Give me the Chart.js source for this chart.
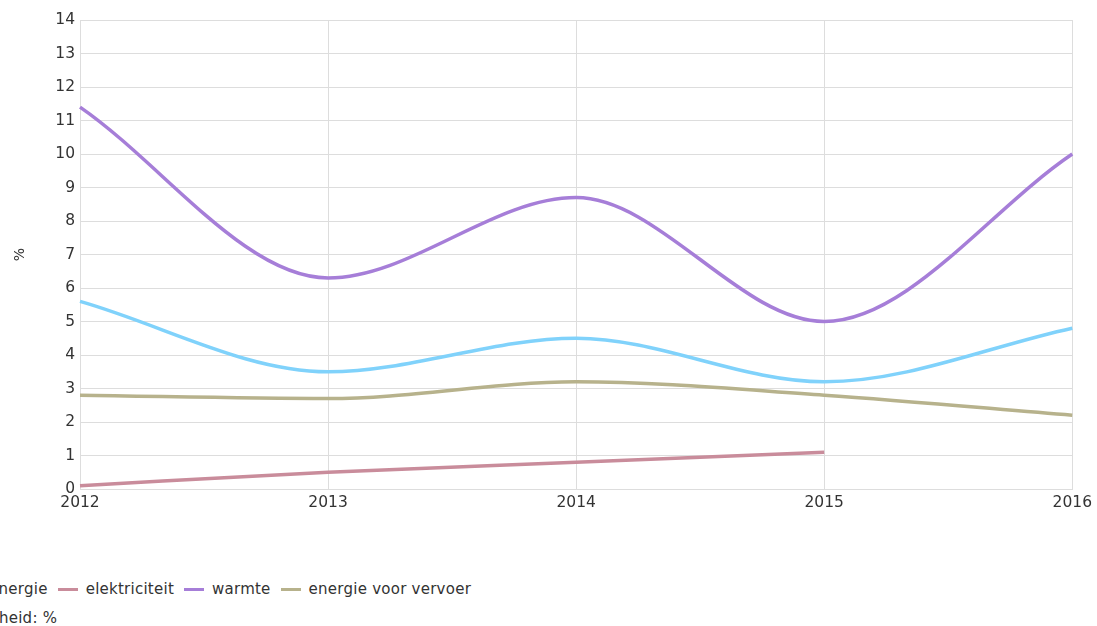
<!DOCTYPE html>
<html>
<head>
<meta charset="utf-8">
<script src="https://cdn.jsdelivr.net/npm/chart.js@4"></script>
<style>
body{margin:0;background:#fff;font-family:"DejaVu Sans",sans-serif;overflow:hidden;}
#wrap{position:relative;width:1097px;height:626px;}
#box{position:absolute;left:0;top:0;width:1097px;height:522px;}
#legend{position:absolute;top:580px;left:-150px;display:flex;align-items:center;font-size:15px;color:#333;white-space:nowrap;letter-spacing:0.25px;}
#legend .it{display:flex;align-items:center;margin-right:10px;}
#legend .sw{width:20px;height:3px;margin-right:8px;}
#unit{position:absolute;top:609px;left:-30px;font-size:15px;color:#333;white-space:nowrap;letter-spacing:0.25px;}
</style>
</head>
<body>
<div id="wrap">
  <div id="box"><canvas id="c"></canvas></div>
  <div id="legend"></div>
  <div id="unit">Eenheid: %</div>
</div>
<script>
const years = ['2012','2013','2014','2015','2016'];
const hernieuwbaar = [5.6, 3.5, 4.5, 3.2, 4.8];
const elektriciteit = [0.1, 0.5, 0.8, 1.1, null];
const warmte = [11.4, 6.3, 8.7, 5.0, 10.0];
const vervoer = [2.8, 2.7, 3.2, 2.8, 2.2];
const yTicks = [0,1,2,3,4,5,6,7,8,9,10,11,12,13,14];

const series = [
  {label:'hernieuwbare energie', data:hernieuwbaar, color:'#80d2fb'},
  {label:'elektriciteit', data:elektriciteit, color:'#c98c9b'},
  {label:'warmte', data:warmte, color:'#a67ed8'},
  {label:'energie voor vervoer', data:vervoer, color:'#b7b28c'}
];

// legend
const lg = document.getElementById('legend');
series.forEach(s=>{
  const it = document.createElement('div'); it.className='it';
  it.innerHTML = '<span class="sw" style="background:'+s.color+'"></span><span>'+s.label+'</span>';
  lg.appendChild(it);
});

const tickFont = {family:'DejaVu Sans',size:15.5};

new Chart('c',{
  type:'line',
  data:{
    labels:years,
    datasets:series.map(s=>({
      label:s.label,data:s.data,borderColor:s.color,backgroundColor:s.color,
      borderWidth:3.5,pointRadius:0,fill:false,cubicInterpolationMode:'monotone',spanGaps:false
    }))
  },
  options:{
    responsive:true,maintainAspectRatio:false,animation:false,
    layout:{padding:{top:20,right:24,left:0,bottom:0}},
    plugins:{legend:{display:false},tooltip:{enabled:false}},
    scales:{
      x:{
        offset:false,
        grid:{color:'#dddddd',drawTicks:false},
        border:{color:'#dddddd'},
        ticks:{color:'#333',font:tickFont,padding:5,maxRotation:0},
        afterFit:s=>{s.height=33;}
      },
      y:{
        min:0,max:14,
        afterBuildTicks:s=>{s.ticks=yTicks.map(v=>({value:v}));},
        grid:{color:'#dddddd',drawTicks:false},
        border:{color:'#dddddd'},
        ticks:{color:'#333',font:tickFont,padding:5},
        title:{display:true,text:'%',color:'#333',font:{family:'DejaVu Sans',size:14},padding:{top:12,bottom:0}},
        afterFit:s=>{s.width=80;}
      }
    }
  }
});
</script>
</body>
</html>
